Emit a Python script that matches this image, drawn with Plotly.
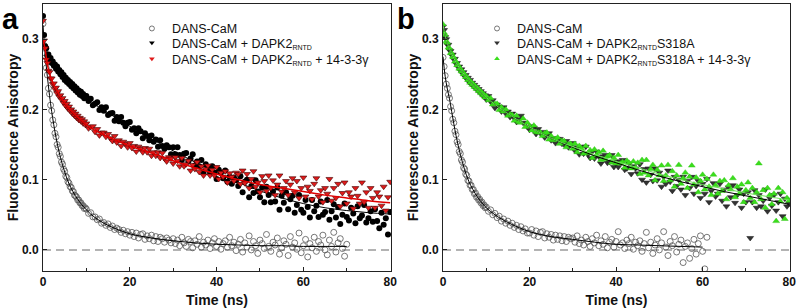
import numpy as np
import plotly.graph_objects as go

# ---------------- data (anisotropy values in units of 0.001) ----------------
t_fine = np.arange(0, 10, 0.25)
t_full = np.concatenate([t_fine, np.arange(10, 80.01, 0.5)])
t_a_dans = np.concatenate([t_fine, np.arange(10, 70.01, 0.5)])
t_b_dans = np.concatenate([t_fine, np.arange(10, 61.01, 0.5)])

a_dans = [322,291,280,259,249,230,222,206,198,185,178,166,161,150,146,137,133,125,122,115,
          112,105,103,97,95,90,89,84,83,78,77,75,71,71,67,67,63,63,59,60,
          58,52,53,47,47,43,44,38,39,35,37,32,34,29,31,29,25,28,23,26,
          21,25,19,24,17,22,23,15,20,16,21,13,19,12,18,16,11,17,14,10,
          16,9,14,6,18,10,5,15,12,3,13,8,19,4,11,7,14,2,10,16,5,12,1,9,13,4,18,6,11,-1,
          8,15,-3,10,4,20,0,12,6,-5,14,9,2,22,5,-2,11,7,17,-6,3,13,8,-8,19,4,10,1,24,-4,
          6,15,-10,9,3,18,-2,12,7,21,0,-7,14,5,25,-3,10,16,2,-9,8]
a_dapk2 = [333,306,290,287,277,278,271,273,266,268,262,264,258,261,254,256,250,253,246,249,
           242,245,239,242,236,239,233,236,230,233,227,230,224,227,221,225,219,222,216,219,
           219,212,215,206,208,210,199,203,198,203,192,194,195,184,189,183,189,181,176,181,
           182,171,173,166,173,169,159,166,162,156,163,154,157,147,156,148,144,149,146,136,
           146,136,146,135,128,137,138,126,130,136,120,126,119,128,111,122,117,110,119,110,
           101,114,110,102,113,97,104,94,103,99,
           91,105,82,97,100,75,91,81,99,83,75,89,68,90,78,68,83,69,89,57,
           77,67,82,58,72,77,53,64,78,57,53,71,61,46,71,55,63,47,69,50,
           54,71,43,55,65,46,61,37,50,66,47,42,60,52,38,62,45,49,64,39,
           45,55,40,58,41,31,53,36,45,22,54]
a_dapk2_1433 = [326,298,287,271,266,255,253,244,244,236,237,229,231,223,226,218,220,214,216,209,
                212,205,208,201,204,198,200,194,197,191,194,188,191,185,188,183,186,180,183,178,
                180,173,175,176,168,172,163,167,167,161,165,159,155,162,153,156,148,154,151,146,
                152,145,148,140,147,144,139,145,139,144,134,139,134,139,131,138,130,126,132,130,
                123,132,127,119,131,119,122,127,113,121,115,125,111,119,106,115,120,106,114,106,
                118,101,110,104,112,96,109,104,98,110,
                108,94,113,95,108,88,101,112,90,96,82,105,98,84,106,88,99,78,93,106,
                83,88,98,78,93,102,82,98,74,88,103,76,90,84,72,94,102,76,85,68,
                88,80,101,70,88,74,94,62,81,96,66,82,76,59,88,77,66,96,68,82,
                60,88,74,60,82,76,63,90,56,75,97]
b_dans = [274,261,248,236,230,221,216,204,198,186,181,169,164,154,150,140,137,128,125,117,
          115,108,106,99,98,92,92,86,86,80,81,75,76,71,72,67,68,63,64,60,
          61,55,57,50,52,46,48,41,44,38,41,35,38,32,35,29,33,27,30,24,
          24,29,21,27,19,25,26,17,23,18,22,14,21,15,20,13,19,12,18,16,
          17,11,20,9,14,7,18,12,5,16,10,21,6,13,8,19,3,11,15,4,12,26,7,10,2,14,9,18,1,11,
          6,13,-2,9,25,3,11,-5,7,16,0,10,26,4,-8,12,6,19,-3,8,14,-18,5,10,-12,2,15,-6,9,20,
          -2,-27,18]
b_s318a = [318,313,303,300,292,292,284,283,277,278,271,272,265,266,260,261,255,257,251,253,
           247,249,243,245,239,242,236,238,233,235,230,232,227,229,224,226,221,223,218,220,
           214,219,211,213,202,207,204,197,203,194,197,189,194,187,182,186,191,181,180,175,
           171,176,174,165,172,166,168,160,164,166,156,159,152,158,158,151,150,155,146,150,
           152,141,146,136,147,137,147,136,131,140,130,140,133,123,133,135,124,125,135,118,
           126,118,126,128,114,116,123,108,119,116,
           109,122,100,115,96,116,107,98,116,99,110,90,104,94,113,97,84,104,91,100,
           86,104,78,98,88,104,80,91,98,74,94,80,101,68,84,95,76,80,94,70,
           86,62,89,75,92,67,78,86,60,80,68,82,17,68,85,60,78,62,70,86,
           55,74,63,78,56,68,80,48,73,62,66]
b_s318a_1433 = [321,309,306,297,295,288,287,280,280,275,274,268,268,263,263,258,258,254,254,250,
                250,246,246,242,242,238,239,235,236,232,233,229,230,226,227,223,224,220,221,217,
                219,213,216,207,208,208,199,203,197,200,191,193,192,184,191,182,181,187,175,181,
                176,170,177,168,167,167,162,166,167,157,162,156,158,160,151,155,155,146,150,151,
                144,151,139,148,144,137,148,138,142,131,143,135,139,128,141,129,133,135,124,131,
                123,135,123,125,117,127,124,116,126,117,
                124,108,128,110,128,106,115,121,99,114,106,120,98,106,121,99,112,90,106,121,
                94,102,110,88,104,120,93,103,82,98,107,86,101,90,78,107,92,80,98,84,
                99,72,92,86,102,75,90,80,93,68,85,96,74,88,68,82,123,72,85,60,
                88,78,65,80,41,88,69,82,44,74,70]

# fitted curves (units of 0.001)
t_fit = [0,0.5,1,1.5,2,3,4,5,6,8,10,12,15,20,25,30,35,40,45,50,55,60,65,70,75,80]
fit_a_dans = [320,278,247,220,197,160,132,111,94,72,57,46,35,23,17,13,10,8,7,6,6,5,5,5]
fit_a_dapk2 = [300,290,280,273,268,260,252,244,238,226,216,207,195,176,158,141,125,110,96,84,74,66,60,56,53,51]
fit_a_dapk2_1433 = [300,285,264,251,242,229,218,209,201,189,178,170,161,148,138,127,117,108,100,93,88,83,78,74,70,67]
fit_b_dans = [275,247,229,215,197,163,136,114,97,75,60,50,39,26,19,15,11,8,7,6,5,4]
fit_b_s318a = [320,305,294,286,279,267,257,249,241,229,217,207,194,175,159,146,134,124,114,105,97,90,83,77,71,65]
fit_b_s318a_1433 = [320,305,294,286,279,267,257,249,241,229,217,207,194,175,159,147,136,126,117,108,100,93,87,81,76,71]

x_ticks = [0, 20, 40, 60, 80]
y_ticks = [0.0, 0.1, 0.2, 0.3]

SUB = "<sub><span style='font-size:7px'>RNTD</span></sub>"
leg_a = ["DANS-CaM",
         "DANS-CaM + DAPK2" + SUB,
         "DANS-CaM + DAPK2" + SUB + " + 14-3-3γ"]
leg_b = ["DANS-CaM",
         "DANS-CaM + DAPK2" + SUB + "S318A",
         "DANS-CaM + DAPK2" + SUB + "S318A + 14-3-3γ"]

def v(a):
    return np.array(a) / 1000.0

F = "Liberation Sans"
fig = go.Figure()

# ---------------- panel a ----------------
fig.add_trace(go.Scatter(x=t_a_dans, y=v(a_dans), mode="markers", showlegend=False,
                         marker=dict(symbol="circle-open", size=6, color="#555", line=dict(width=0.8)),
                         xaxis="x", yaxis="y"))
fig.add_trace(go.Scatter(x=t_fit[:len(fit_a_dans)], y=v(fit_a_dans), mode="lines", showlegend=False,
                         line=dict(color="black", width=1, shape="spline"), xaxis="x", yaxis="y"))
fig.add_trace(go.Scatter(x=t_full, y=v(a_dapk2), mode="markers", showlegend=False,
                         marker=dict(symbol="circle", size=6, color="black"), xaxis="x", yaxis="y"))
fig.add_trace(go.Scatter(x=t_fit, y=v(fit_a_dapk2), mode="lines", showlegend=False,
                         line=dict(color="black", width=1, shape="spline"), xaxis="x", yaxis="y"))
fig.add_trace(go.Scatter(x=t_full, y=v(a_dapk2_1433), mode="markers", showlegend=False,
                         marker=dict(symbol="triangle-down", size=6, color="#e01b1b",
                                     line=dict(color="#400000", width=0.6)), xaxis="x", yaxis="y"))
fig.add_trace(go.Scatter(x=t_fit, y=v(fit_a_dapk2_1433), mode="lines", showlegend=False,
                         line=dict(color="#e00000", width=1.5, shape="spline"), xaxis="x", yaxis="y"))

# ---------------- panel b ----------------
fig.add_trace(go.Scatter(x=t_b_dans, y=v(b_dans), mode="markers", showlegend=False,
                         marker=dict(symbol="circle-open", size=6, color="#555", line=dict(width=0.8)),
                         xaxis="x2", yaxis="y2"))
fig.add_trace(go.Scatter(x=t_fit[:len(fit_b_dans)], y=v(fit_b_dans), mode="lines", showlegend=False,
                         line=dict(color="black", width=1, shape="spline"), xaxis="x2", yaxis="y2"))
fig.add_trace(go.Scatter(x=t_full, y=v(b_s318a), mode="markers", showlegend=False,
                         marker=dict(symbol="triangle-down", size=6, color="#333",
                                     line=dict(color="#111", width=0.5)), xaxis="x2", yaxis="y2"))
fig.add_trace(go.Scatter(x=t_full, y=v(b_s318a_1433), mode="markers", showlegend=False,
                         marker=dict(symbol="triangle-up", size=6, color="#3ade1c",
                                     line=dict(color="#2bc010", width=0.4)), xaxis="x2", yaxis="y2"))
fig.add_trace(go.Scatter(x=t_fit, y=v(fit_b_s318a), mode="lines", showlegend=False,
                         line=dict(color="black", width=1, shape="spline"), xaxis="x2", yaxis="y2"))
fig.add_trace(go.Scatter(x=t_fit, y=v(fit_b_s318a_1433), mode="lines", showlegend=False,
                         line=dict(color="#6fe05a", width=1, shape="spline"), xaxis="x2", yaxis="y2"))

# ---------------- legend entries (one small legend per row) ----------------
leg_styles_a = [dict(symbol="circle-open", size=5, color="#555", line=dict(width=0.8)),
                dict(symbol="triangle-down", size=5, color="black"),
                dict(symbol="triangle-down", size=5, color="#e01b1b")]
leg_styles_b = [dict(symbol="circle-open", size=5, color="#555", line=dict(width=0.8)),
                dict(symbol="triangle-down", size=5, color="#333"),
                dict(symbol="triangle-up", size=5, color="#3ade1c")]
row_y = [0.907, 0.8539, 0.794]
legcommon = dict(font=dict(family=F, size=12.5, color="#111"), bgcolor="rgba(0,0,0,0)",
                 borderwidth=0, tracegroupgap=0, xanchor="left", yanchor="middle")
legend_layout = {}
k = 1
for names, styles, xa, ya, lx in ((leg_a, leg_styles_a, "x", "y", 0.119),
                                  (leg_b, leg_styles_b, "x2", "y2", 0.581)):
    for name, st, ry in zip(names, styles, row_y):
        key = "legend" if k == 1 else f"legend{k}"
        fig.add_trace(go.Scatter(x=[None], y=[None], mode="markers", name=name, marker=st,
                                 legend=key, xaxis=xa, yaxis=ya))
        legend_layout[key] = dict(legcommon, x=lx, y=ry)
        k += 1

# zero reference lines
for xr, yr in (("x", "y"), ("x2", "y2")):
    fig.add_shape(type="line", xref=f"{xr} domain", yref=yr, x0=0, x1=1, y0=0, y1=0,
                  line=dict(color="#9a9a9a", width=1.5, dash="8px,5px"), layer="below")

tickfont = dict(family=F, size=12, color="#111", weight="bold")
titlefont = dict(family=F, size=14, color="#111", weight="bold")
common = dict(showline=True, linecolor="#222", linewidth=1, mirror=True, ticks="inside",
              ticklen=4, tickwidth=1, tickcolor="#222", showgrid=False, zeroline=False,
              tickfont=tickfont, automargin=False)
xcommon = dict(common, range=[0, 80.2], tickvals=x_ticks,
               minor=dict(ticks="inside", ticklen=3, tickvals=[10, 30, 50, 70], tickcolor="#222"),
               title=dict(text="Time (ns)", font=titlefont, standoff=6))
ycommon = dict(common, range=[-0.03, 0.35], tickvals=y_ticks, tickformat=".1f",
               ticklabelstandoff=1,
               title=dict(text="Fluorescence Anisotropy", font=titlefont, standoff=0))

fig.update_layout(
    width=798, height=308,
    margin=dict(l=43, r=8, t=4, b=37, autoexpand=False),
    paper_bgcolor="white", plot_bgcolor="white",
    xaxis=dict(xcommon, domain=[0, 0.4659], anchor="y"),
    yaxis=dict(ycommon, anchor="x"),
    xaxis2=dict(xcommon, domain=[0.5355, 1], anchor="y2"),
    yaxis2=dict(ycommon, anchor="x2"),
    annotations=[
        dict(text="<b>a</b>", xref="paper", yref="paper", x=-0.057, y=1.012, xanchor="left",
             yanchor="top", showarrow=False, font=dict(family=F, size=29, color="black")),
        dict(text="<b>b</b>", xref="paper", yref="paper", x=0.4713, y=1.012, xanchor="left",
             yanchor="top", showarrow=False, font=dict(family=F, size=29, color="black")),
    ],
    **legend_layout,
)

fig.write_html("out.html", config={"displayModeBar": False},
               post_script="document.body.style.margin='0';")
